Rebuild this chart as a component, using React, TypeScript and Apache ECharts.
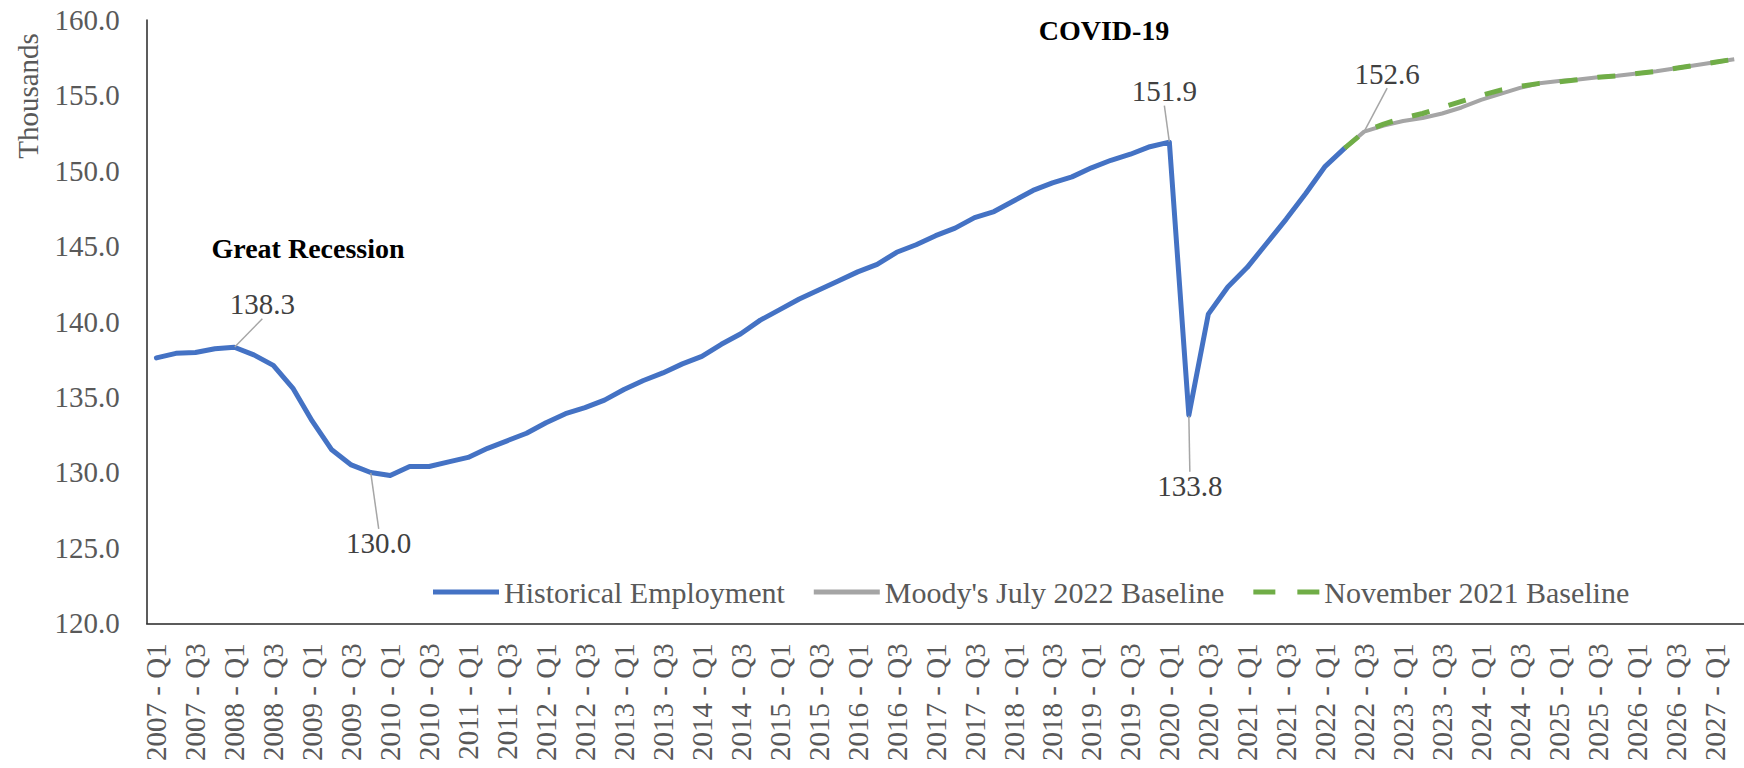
import React, { useEffect, useRef } from "react";
import * as echarts from "echarts";

// ---- Data ----
const years = [2007, 2008, 2009, 2010, 2011, 2012, 2013, 2014, 2015, 2016, 2017, 2018, 2019, 2020, 2021, 2022, 2023, 2024, 2025, 2026, 2027];
const quarters = ["Q1", "Q2", "Q3", "Q4"];
const categoryCount = 82; // 2007 - Q1 ... 2027 - Q2 (chart is cropped at the right edge)
const categories = years.flatMap((y) => quarters.map((q) => `${y} - ${q}`)).slice(0, categoryCount);

const yTicks = [120, 125, 130, 135, 140, 145, 150, 155, 160];

// Historical employment, 2007 Q1 - 2022 Q2 (millions)
const historical = [
  137.6, 137.9, 137.95, 138.2, 138.3, 137.8, 137.1, 135.6,
  133.4, 131.5, 130.5, 130.0, 129.8, 130.4, 130.4, 130.7,
  131.0, 131.6, 132.1, 132.6, 133.3, 133.9, 134.3, 134.8,
  135.5, 136.1, 136.6, 137.2, 137.7, 138.5, 139.2, 140.1,
  140.8, 141.5, 142.1, 142.7, 143.3, 143.8, 144.6, 145.1,
  145.7, 146.2, 146.9, 147.3, 148.0, 148.7, 149.2, 149.6,
  150.2, 150.7, 151.1, 151.6, 151.9, 133.8, 140.5, 142.3,
  143.6, 145.2, 146.8, 148.5, 150.3, 151.5,
];

// Forecasts start at 2022 Q2 (index 61)
const forecastStart = 61;
const moodysJuly2022 = [
  151.5, 152.6, 153.0, 153.3, 153.5, 153.8, 154.2, 154.7, 155.1, 155.5, 155.8,
  155.95, 156.05, 156.2, 156.3, 156.45, 156.6, 156.8, 157.0, 157.2, 157.4,
];
const november2021 = [
  151.5, 152.6, 153.1, 153.5, 153.8, 154.2, 154.6, 155.0, 155.35, 155.6, 155.8,
  155.9, 156.05, 156.2, 156.3, 156.45, 156.6, 156.8, 157.0, 157.2, 157.4,
];

// Labelled points (category index) for data labels
const historicalLabelled = [4, 11, 52, 53];
const moodysLabelled = [62];

const seriesNames = ["Historical Employment", "Moody's July 2022 Baseline", "November 2021 Baseline"];

const FONT = "'Liberation Serif', 'Times New Roman', serif";

export default function App() {
  const ref = useRef<HTMLDivElement>(null);

  useEffect(() => {
    document.body.style.margin = "0";
    if (!ref.current) return;
    const chart = echarts.init(ref.current, undefined, { renderer: "svg" });

    const labelOffsets: Record<string, [number, number]> = {
      "0-4": [28, -43],
      "0-11": [8, 71],
      "0-52": [-5, -51],
      "0-53": [1, 71],
      "1-62": [23, -58],
    };

    const labelStyle = {
      show: true,
      position: "inside",
      fontSize: 29,
      fontFamily: FONT,
      color: "#404040",
      formatter: (p: any) => Number(p.value).toFixed(1),
    };

    const withLabels = (values: (number | null)[], labelled: number[]) =>
      values.map((v, i) =>
        labelled.includes(i)
          ? { value: v, symbol: "circle", symbolSize: 1, label: labelStyle }
          : v
      );

    const pad = (arr: number[]) => {
      const out: (number | null)[] = new Array(categoryCount).fill(null);
      arr.forEach((v, i) => {
        out[forecastStart + i] = v;
      });
      return out;
    };

    const makeLayout = (seriesIdx: number) => (params: any) => {
      const o = labelOffsets[`${seriesIdx}-${params.dataIndex}`];
      return o ? { dx: o[0], dy: o[1] } : {};
    };

    const labelLine = { show: true, lineStyle: { color: "#a6a6a6", width: 1.5 } };

    chart.setOption({
      animation: false,
      backgroundColor: "#ffffff",
      grid: { left: 146.7, top: 20, bottom: 144.7, right: -14, containLabel: false },
      legend: {
        data: [
          { name: seriesNames[0], icon: "path://M0 0H66V5H0Z" },
          { name: seriesNames[1], icon: "path://M0 0H66V5H0Z" },
          { name: seriesNames[2], icon: "path://M2 0H22V5H2Z M42 0H62V5H42Z" },
        ],
        left: 433,
        top: 577,
        padding: 0,
        itemWidth: 66,
        itemHeight: 5,
        itemGap: 29,
        symbolKeepAspect: false,
        textStyle: { fontSize: 30, fontFamily: FONT, color: "#595959" },
      },
      xAxis: {
        type: "category",
        data: categories,
        boundaryGap: true,
        axisLine: { show: true, lineStyle: { color: "#262626", width: 1.5 } },
        axisTick: { show: false },
        axisLabel: {
          interval: 1,
          rotate: 90,
          margin: 20,
          fontSize: 29,
          fontFamily: FONT,
          color: "#595959",
        },
        splitLine: { show: false },
      },
      yAxis: {
        type: "value",
        min: yTicks[0],
        max: yTicks[yTicks.length - 1],
        interval: yTicks[1] - yTicks[0],
        axisLine: { show: true, lineStyle: { color: "#262626", width: 1.5 } },
        axisTick: { show: false },
        splitLine: { show: false },
        axisLabel: {
          margin: 27,
          fontSize: 29,
          fontFamily: FONT,
          color: "#595959",
          formatter: (v: number) => v.toFixed(1),
        },
      },
      series: [
        {
          name: seriesNames[0],
          type: "line",
          data: withLabels(historical, historicalLabelled),
          symbol: "none",
          lineStyle: { color: "#4472C4", width: 5, cap: "round", join: "round" },
          itemStyle: { color: "#4472C4" },
          labelLayout: makeLayout(0),
          labelLine,
          z: 3,
        },
        {
          name: seriesNames[1],
          type: "line",
          data: withLabels(pad(moodysJuly2022), moodysLabelled),
          symbol: "none",
          lineStyle: { color: "#A5A5A5", width: 4, join: "round" },
          itemStyle: { color: "#A5A5A5" },
          labelLayout: makeLayout(1),
          labelLine,
          z: 4,
        },
        {
          name: seriesNames[2],
          type: "line",
          data: pad(november2021),
          symbol: "none",
          lineStyle: { color: "#70AD47", width: 5, type: [18, 20] },
          itemStyle: { color: "#70AD47" },
          z: 5,
        },
      ],
      graphic: [
        {
          type: "text",
          x: 28,
          y: 96,
          rotation: Math.PI / 2,
          style: {
            text: "Thousands",
            fontSize: 29,
            fontFamily: FONT,
            fill: "#595959",
            align: "center",
            verticalAlign: "middle",
          },
        },
        {
          type: "text",
          x: 308,
          y: 248,
          style: {
            text: "Great Recession",
            fontSize: 28,
            fontWeight: "bold",
            fontFamily: FONT,
            fill: "#000000",
            align: "center",
            verticalAlign: "middle",
          },
        },
        {
          type: "text",
          x: 1104,
          y: 30,
          style: {
            text: "COVID-19",
            fontSize: 28,
            fontWeight: "bold",
            fontFamily: FONT,
            fill: "#000000",
            align: "center",
            verticalAlign: "middle",
          },
        },
      ],
    });

    return () => chart.dispose();
  }, []);

  return <div ref={ref} style={{ width: 1744, height: 768 }} />;
}
